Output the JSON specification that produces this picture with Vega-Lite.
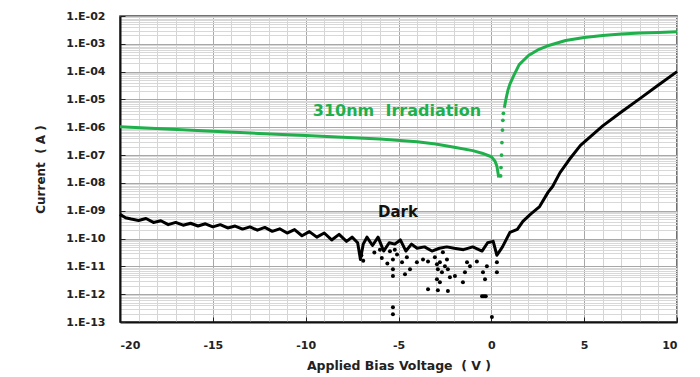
{
  "$schema": "https://vega.github.io/schema/vega-lite/v6.json",
  "width": 557,
  "height": 306,
  "autosize": "none",
  "padding": {"left": 120, "top": 16, "right": 23, "bottom": 55},
  "background": "white",
  "config": {
    "view": {"stroke": "#444", "strokeWidth": 1.5},
    "font": "DejaVu Sans"
  },
  "datasets": {
    "greenLine": [
      {"V": -20, "I": 1.05e-6, "seg": "a"},
      {"V": -17.5, "I": 8.71e-7, "seg": "a"},
      {"V": -15, "I": 7.24e-7, "seg": "a"},
      {"V": -12.5, "I": 6.03e-7, "seg": "a"},
      {"V": -10, "I": 5.01e-7, "seg": "a"},
      {"V": -8, "I": 4.37e-7, "seg": "a"},
      {"V": -6, "I": 3.80e-7, "seg": "a"},
      {"V": -4, "I": 3.02e-7, "seg": "a"},
      {"V": -3, "I": 2.51e-7, "seg": "a"},
      {"V": -2, "I": 1.91e-7, "seg": "a"},
      {"V": -1, "I": 1.45e-7, "seg": "a"},
      {"V": -0.5, "I": 1.17e-7, "seg": "a"},
      {"V": 0, "I": 8.71e-8, "seg": "a"},
      {"V": 0.2, "I": 6.03e-8, "seg": "a"},
      {"V": 0.3, "I": 3.98e-8, "seg": "a"},
      {"V": 0.4, "I": 1.58e-8, "seg": "a"},
      {"V": 0.7, "I": 5.01e-6, "seg": "b"},
      {"V": 0.8, "I": 1.12e-5, "seg": "b"},
      {"V": 0.9, "I": 2.24e-5, "seg": "b"},
      {"V": 1.0, "I": 3.55e-5, "seg": "b"},
      {"V": 1.2, "I": 7.08e-5, "seg": "b"},
      {"V": 1.5, "I": 1.78e-4, "seg": "b"},
      {"V": 2.0, "I": 3.80e-4, "seg": "b"},
      {"V": 2.5, "I": 6.03e-4, "seg": "b"},
      {"V": 3.0, "I": 8.32e-4, "seg": "b"},
      {"V": 4.0, "I": 1.32e-3, "seg": "b"},
      {"V": 5.0, "I": 1.70e-3, "seg": "b"},
      {"V": 6.0, "I": 2.00e-3, "seg": "b"},
      {"V": 7.0, "I": 2.24e-3, "seg": "b"},
      {"V": 8.0, "I": 2.45e-3, "seg": "b"},
      {"V": 9.0, "I": 2.57e-3, "seg": "b"},
      {"V": 10.0, "I": 2.69e-3, "seg": "b"}
    ],
    "greenDots": [
      {"V": 0.5, "I": 1.78e-8},
      {"V": 0.52, "I": 3.55e-8},
      {"V": 0.55, "I": 1.0e-7},
      {"V": 0.57, "I": 2.82e-7},
      {"V": 0.6, "I": 7.94e-7},
      {"V": 0.62, "I": 1.78e-6},
      {"V": 0.65, "I": 3.16e-6}
    ],
    "darkLine": [
      {"V": -20, "I": 7.41e-10},
      {"V": -19.7, "I": 5.62e-10},
      {"V": -19.4, "I": 5.01e-10},
      {"V": -19.0, "I": 4.47e-10},
      {"V": -18.6, "I": 5.25e-10},
      {"V": -18.2, "I": 3.80e-10},
      {"V": -17.8, "I": 4.37e-10},
      {"V": -17.4, "I": 3.16e-10},
      {"V": -17.0, "I": 3.80e-10},
      {"V": -16.6, "I": 3.02e-10},
      {"V": -16.2, "I": 3.55e-10},
      {"V": -15.8, "I": 2.82e-10},
      {"V": -15.4, "I": 3.39e-10},
      {"V": -15.0, "I": 2.63e-10},
      {"V": -14.6, "I": 3.16e-10},
      {"V": -14.2, "I": 2.40e-10},
      {"V": -13.8, "I": 2.82e-10},
      {"V": -13.4, "I": 2.19e-10},
      {"V": -13.0, "I": 2.63e-10},
      {"V": -12.6, "I": 2.00e-10},
      {"V": -12.2, "I": 2.51e-10},
      {"V": -11.8, "I": 1.82e-10},
      {"V": -11.4, "I": 2.24e-10},
      {"V": -11.0, "I": 1.58e-10},
      {"V": -10.6, "I": 2.09e-10},
      {"V": -10.2, "I": 1.26e-10},
      {"V": -9.8, "I": 1.78e-10},
      {"V": -9.4, "I": 1.12e-10},
      {"V": -9.0, "I": 1.58e-10},
      {"V": -8.6, "I": 8.91e-11},
      {"V": -8.2, "I": 1.41e-10},
      {"V": -7.8, "I": 7.94e-11},
      {"V": -7.5, "I": 1.12e-10},
      {"V": -7.2, "I": 7.08e-11},
      {"V": -7.05, "I": 1.78e-11},
      {"V": -6.9, "I": 6.31e-11},
      {"V": -6.7, "I": 1.12e-10},
      {"V": -6.4, "I": 5.62e-11},
      {"V": -6.1, "I": 1.12e-10},
      {"V": -5.8, "I": 3.55e-11},
      {"V": -5.5, "I": 7.08e-11},
      {"V": -5.2, "I": 6.31e-11},
      {"V": -4.9, "I": 8.91e-11},
      {"V": -4.6, "I": 3.55e-11},
      {"V": -4.3, "I": 6.31e-11},
      {"V": -4.0, "I": 4.47e-11},
      {"V": -3.6, "I": 5.01e-11},
      {"V": -3.2, "I": 3.55e-11},
      {"V": -2.8, "I": 4.47e-11},
      {"V": -2.4, "I": 5.01e-11},
      {"V": -2.0, "I": 4.47e-11},
      {"V": -1.5, "I": 3.98e-11},
      {"V": -1.0, "I": 5.01e-11},
      {"V": -0.5, "I": 3.55e-11},
      {"V": -0.2, "I": 7.08e-11},
      {"V": 0.1, "I": 7.94e-11},
      {"V": 0.3, "I": 2.51e-11},
      {"V": 0.6, "I": 5.01e-11},
      {"V": 1.0, "I": 1.66e-10},
      {"V": 1.4, "I": 2.14e-10},
      {"V": 1.7, "I": 4.17e-10},
      {"V": 2.1, "I": 7.41e-10},
      {"V": 2.6, "I": 1.41e-9},
      {"V": 3.05, "I": 4.57e-9},
      {"V": 3.3, "I": 7.41e-9},
      {"V": 3.7, "I": 2.34e-8},
      {"V": 4.2, "I": 6.92e-8},
      {"V": 4.8, "I": 2.24e-7},
      {"V": 5.4, "I": 5.01e-7},
      {"V": 6.0, "I": 1.12e-6},
      {"V": 7.0, "I": 3.55e-6},
      {"V": 8.0, "I": 1.07e-5},
      {"V": 9.0, "I": 3.31e-5},
      {"V": 10.0, "I": 1.0e-4}
    ],
    "darkPts": [
      {"V": -7.0, "I": 2.51e-11},
      {"V": -6.9, "I": 1.58e-11},
      {"V": -6.3, "I": 3.16e-11},
      {"V": -6.0, "I": 3.98e-11},
      {"V": -5.9, "I": 2.0e-11},
      {"V": -5.6, "I": 1.26e-11},
      {"V": -5.46, "I": 3.47e-11},
      {"V": -5.3, "I": 1.78e-11},
      {"V": -5.3, "I": 7.94e-12},
      {"V": -5.3, "I": 4.47e-12},
      {"V": -5.2, "I": 3.98e-11},
      {"V": -5.08, "I": 2.69e-11},
      {"V": -4.81, "I": 1.41e-11},
      {"V": -4.65, "I": 5.25e-12},
      {"V": -4.55, "I": 2.14e-11},
      {"V": -4.38, "I": 7.94e-12},
      {"V": -4.01, "I": 1.41e-11},
      {"V": -3.68, "I": 1.78e-11},
      {"V": -3.41, "I": 1.51e-11},
      {"V": -3.04, "I": 2.14e-11},
      {"V": -2.93, "I": 1.20e-11},
      {"V": -2.88, "I": 7.94e-12},
      {"V": -2.77, "I": 1.41e-11},
      {"V": -2.66, "I": 6.17e-12},
      {"V": -2.61, "I": 3.24e-11},
      {"V": -2.5, "I": 1.0e-11},
      {"V": -2.39, "I": 1.78e-11},
      {"V": -2.34, "I": 7.94e-12},
      {"V": -2.23, "I": 4.07e-12},
      {"V": -2.93, "I": 3.47e-12},
      {"V": -2.77, "I": 2.69e-12},
      {"V": -1.96, "I": 4.47e-12},
      {"V": -1.53, "I": 2.69e-12},
      {"V": -1.42, "I": 6.17e-12},
      {"V": -1.31, "I": 1.41e-11},
      {"V": -1.15, "I": 1.0e-11},
      {"V": -0.78, "I": 1.51e-11},
      {"V": -0.45, "I": 6.17e-12},
      {"V": -0.34, "I": 3.47e-12},
      {"V": -0.24, "I": 1.0e-11},
      {"V": 0.3, "I": 1.41e-11},
      {"V": 0.3, "I": 6.17e-12},
      {"V": -3.41, "I": 1.51e-12},
      {"V": -2.88, "I": 1.38e-12},
      {"V": -2.34, "I": 1.29e-12},
      {"V": -0.5, "I": 8.51e-13},
      {"V": -0.4, "I": 8.51e-13},
      {"V": -0.3, "I": 8.51e-13},
      {"V": -5.3, "I": 3.39e-13},
      {"V": -5.3, "I": 1.91e-13},
      {"V": 0.03, "I": 1.51e-13}
    ],
    "labels": [
      {"V": -5.08, "I": 3.98e-6, "text": "310nm\u00a0\u00a0Irradiation", "kind": "green", "size": 16},
      {"V": -5.03, "I": 9.3e-10, "text": "Dark", "kind": "dark", "size": 15}
    ]
  },
  "encoding": {
    "x": {
      "field": "V",
      "type": "quantitative",
      "scale": {"domain": [-20, 10], "nice": false, "zero": false},
      "axis": {
        "title": "Applied Bias Voltage\u00a0\u00a0( V )",
        "titleFont": "DejaVu Sans",
        "titleFontSize": 12.5,
        "titleFontWeight": "bold",
        "titleColor": "#222",
        "titlePadding": 9,
        "values": [-20,-19,-18,-17,-16,-15,-14,-13,-12,-11,-10,-9,-8,-7,-6,-5,-4,-3,-2,-1,0,1,2,3,4,5,6,7,8,9,10],
        "labelExpr": "datum.value % 5 === 0 ? '' + datum.value : ''",
        "labelFont": "DejaVu Sans",
        "labelFontSize": 11,
        "labelFontWeight": "bold",
        "labelColor": "#222",
        "labelOverlap": false,
        "labelPadding": 22,
        "tickSize": -5,
        "tickColor": "#222",
        "tickOpacity": {"condition": {"test": "datum.value % 5 === 0", "value": 1}, "value": 0},
        "domainColor": "#111",
        "domainWidth": 2,
        "grid": true,
        "gridColor": {"condition": {"test": "datum.value % 5 === 0", "value": "#a8a8a8"}, "value": "#d4d4d4"},
        "gridWidth": 1
      }
    },
    "y": {
      "field": "I",
      "type": "quantitative",
      "scale": {"type": "log", "domain": [1e-13, 1e-2], "nice": false},
      "axis": {
        "title": "Current\u00a0\u00a0( A )",
        "titleFont": "DejaVu Sans",
        "titleFontSize": 12,
        "titleFontWeight": "bold",
        "titleColor": "#222",
        "titlePadding": 18,
        "values": [1e-13,2e-13,3e-13,4e-13,5e-13,6e-13,7e-13,8e-13,9e-13,
                   1e-12,2e-12,3e-12,4e-12,5e-12,6e-12,7e-12,8e-12,9e-12,
                   1e-11,2e-11,3e-11,4e-11,5e-11,6e-11,7e-11,8e-11,9e-11,
                   1e-10,2e-10,3e-10,4e-10,5e-10,6e-10,7e-10,8e-10,9e-10,
                   1e-9,2e-9,3e-9,4e-9,5e-9,6e-9,7e-9,8e-9,9e-9,
                   1e-8,2e-8,3e-8,4e-8,5e-8,6e-8,7e-8,8e-8,9e-8,
                   1e-7,2e-7,3e-7,4e-7,5e-7,6e-7,7e-7,8e-7,9e-7,
                   1e-6,2e-6,3e-6,4e-6,5e-6,6e-6,7e-6,8e-6,9e-6,
                   1e-5,2e-5,3e-5,4e-5,5e-5,6e-5,7e-5,8e-5,9e-5,
                   1e-4,2e-4,3e-4,4e-4,5e-4,6e-4,7e-4,8e-4,9e-4,
                   1e-3,2e-3,3e-3,4e-3,5e-3,6e-3,7e-3,8e-3,9e-3,
                   1e-2],
        "labelExpr": "abs(log(datum.value)/LN10 - round(log(datum.value)/LN10)) < 0.001 ? '1.E-' + (abs(round(log(datum.value)/LN10)) < 10 ? '0' : '') + abs(round(log(datum.value)/LN10)) : ''",
        "labelFont": "DejaVu Sans",
        "labelFontSize": 11,
        "labelFontWeight": "bold",
        "labelColor": "#222",
        "labelOverlap": false,
        "labelPadding": 20,
        "tickSize": -5,
        "tickColor": "#222",
        "tickOpacity": {"condition": {"test": "abs(log(datum.value)/LN10 - round(log(datum.value)/LN10)) < 0.001", "value": 1}, "value": 0},
        "domainColor": "#111",
        "domainWidth": 2,
        "grid": true,
        "gridColor": {"condition": {"test": "abs(log(datum.value)/LN10 - round(log(datum.value)/LN10)) < 0.001", "value": "#a8a8a8"}, "value": "#d8d8d8"},
        "gridWidth": 1
      }
    }
  },
  "layer": [
    {
      "data": {"name": "darkLine"},
      "mark": {"type": "line", "color": "#000", "strokeWidth": 3, "strokeJoin": "round"},
      "encoding": {}
    },
    {
      "data": {"name": "darkPts"},
      "mark": {"type": "point", "filled": true, "color": "#000", "size": 16, "opacity": 1},
      "encoding": {}
    },
    {
      "data": {"name": "greenLine"},
      "mark": {"type": "line", "color": "#1fb04c", "strokeWidth": 3, "strokeJoin": "round"},
      "encoding": {"detail": {"field": "seg"}}
    },
    {
      "data": {"name": "greenDots"},
      "mark": {"type": "point", "filled": true, "color": "#1fb04c", "size": 14, "opacity": 1},
      "encoding": {}
    },
    {
      "data": {"name": "labels"},
      "mark": {"type": "text", "font": "DejaVu Sans", "fontWeight": "bold", "align": "center", "baseline": "middle"},
      "encoding": {
        "text": {"field": "text"},
        "size": {"field": "size", "type": "quantitative", "scale": null},
        "color": {"field": "kind", "type": "nominal", "scale": {"domain": ["green", "dark"], "range": ["#1fb04c", "#111"]}, "legend": null}
      }
    }
  ]
}
